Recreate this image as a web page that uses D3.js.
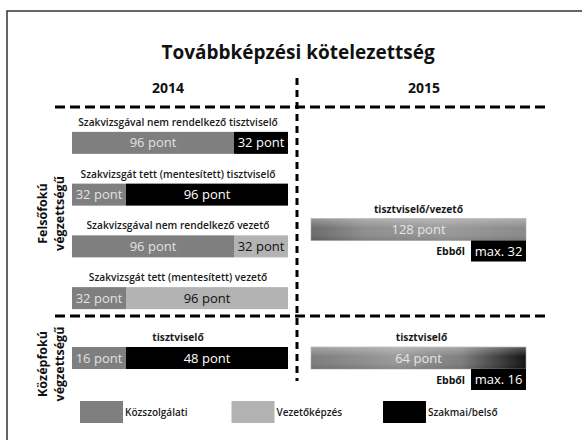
<!DOCTYPE html>
<html>
<head>
<meta charset="utf-8">
<style>
  body { margin: 0; padding: 0; background: #ffffff; font-family: 'Open Sans', sans-serif; }
  #chart { width: 582px; height: 440px; }
  .divider { fill: none; stroke: #000; stroke-width: 3; }
  .rowlabel { font-size: 10.2px; font-weight: 600; fill: #1a1a1a; text-anchor: middle; }
  .seglabel { font-size: 13px; text-anchor: middle; }
  .group { font-size: 12.5px; font-weight: 700; fill: #111; text-anchor: middle; }
  .legend text { font-size: 10px; font-weight: 600; fill: #1a1a1a; }
</style>
</head>
<body>
<div id="chart"></div>
<script src="https://d3js.org/d3.v7.min.js"></script>
<script>

// chart data
var title = "Továbbképzési kötelezettség"
var years = ["2014", "2015"]
var categories = ["Közszolgálati", "Vezetőképzés", "Szakmai/belső"]
var catColors = ["#7f7f7f", "#b3b3b3", "#000000"]
var catText = ["#e2e2e2", "#111111", "#ffffff"]
var groups = ["Felsőfokú", "Középfokú"]
var groupSub = "végzettségű"

// 2014 rows: two segments per bar
var labels2014 = ["Szakvizsgával nem rendelkező tisztviselő", "Szakvizsgát tett (mentesített) tisztviselő",
  "Szakvizsgával nem rendelkező vezető", "Szakvizsgát tett (mentesített) vezető", "tisztviselő"]
var group2014 = [0, 0, 0, 0, 1]
var firstCat = [0, 0, 0, 0, 0]
var firstVal = [96, 32, 96, 32, 16]
var secondCat = [2, 2, 1, 1, 2]
var secondVal = [32, 96, 32, 96, 48]

// 2015 rows
var labels2015 = ["tisztviselő/vezető", "tisztviselő"]
var group2015 = [0, 1]
var total2015 = [128, 64]
var max2015 = [32, 16]
var unit = " pont"

var width = 582, height = 440, barH = 22

var svg = d3.select("#chart").append("svg")
  .attr("width", width).attr("height", height)

// gradients for 2015 bars
var defs = svg.append("defs")
function addGrad(id, stops) {
  var g = defs.append("linearGradient").attr("id", id).attr("x1", 0).attr("x2", 1).attr("y1", 0).attr("y2", 0)
  stops.forEach(function (s) { g.append("stop").attr("offset", s[0]).attr("stop-color", s[1]) })
}
addGrad("g0", [["0%", "#6a6a6a"], ["25%", "#8e8e8e"], ["60%", "#9b9b9b"], ["100%", "#8a8a8a"]])
addGrad("g1", [["0%", "#7c7c7c"], ["40%", "#9a9a9a"], ["70%", "#7e7e7e"], ["100%", "#111111"]])
var shine = defs.append("linearGradient").attr("id", "shine").attr("x1", 0).attr("x2", 0).attr("y1", 0).attr("y2", 1)
shine.append("stop").attr("offset", "0%").attr("stop-color", "#fff").attr("stop-opacity", 0.3)
shine.append("stop").attr("offset", "45%").attr("stop-color", "#fff").attr("stop-opacity", 0)
shine.append("stop").attr("offset", "100%").attr("stop-color", "#000").attr("stop-opacity", 0.12)

// outer frame
svg.append("rect").attr("x", 7).attr("y", 11).attr("width", 600).attr("height", 460)
  .attr("fill", "none").attr("stroke", "#333").attr("stroke-width", 1.5)

// title
svg.append("text").attr("x", 298).attr("y", 59).attr("text-anchor", "middle")
  .style("font-size", "19px").style("font-weight", 700).style("fill", "#111").text(title)

// column scale for the two years
var xYear = d3.scaleBand().domain(years).range([40, 552])
svg.selectAll(".year").data(years).enter().append("text")
  .attr("class", "year")
  .attr("x", function (d) { return xYear(d) + xYear.bandwidth() / 2 })
  .attr("y", 93).attr("text-anchor", "middle")
  .style("font-size", "14px").style("font-weight", 700).style("fill", "#111")
  .text(function (d) { return d })

// section scale (vertical) for the education groups
var ySection = d3.scaleOrdinal().domain(groups).range([[107, 316], [316, 400]])
// rows inside the upper section
var upperRows = d3.range(labels2014.filter(function (d, i) { return group2014[i] === 0 }).length)
var yRow = d3.scaleBand().domain(upperRows).range([116, 323])

function rowCenter(i) {
  if (group2014[i] === 0) return yRow(i) + yRow.bandwidth() / 2 + 1
  var s = ySection(groups[group2014[i]])
  return (s[0] + s[1]) / 2
}

// dividers
svg.append("line").attr("class", "divider").attr("x1", 55).attr("x2", 547).attr("y1", 107).attr("y2", 107)
  .attr("stroke-dasharray", "10,5")
svg.append("line").attr("class", "divider").attr("x1", 55).attr("x2", 547).attr("y1", 316).attr("y2", 316)
  .attr("stroke-dasharray", "10,5")
svg.append("line").attr("class", "divider").attr("x1", 297).attr("x2", 297).attr("y1", 78).attr("y2", 381)
  .attr("stroke-width", 2.5).attr("stroke-dasharray", "7,5")

// group labels (rotated)
var gl = svg.selectAll(".glabel").data(groups).enter().append("g")
  .attr("transform", function (d) {
    var s = ySection(d)
    return "translate(0," + ((s[0] + s[1]) / 2 + (d === groups[0] ? 2 : 6)) + ")"
  })
gl.append("text").attr("class", "group")
  .attr("transform", "translate(47,0) rotate(-90)").text(function (d) { return d })
gl.append("text").attr("class", "group")
  .attr("transform", "translate(64,0) rotate(-90)").text(groupSub)

// 2014 bars: each bar normalised to the full width
var barLeft = 72, barRight = 288
labels2014.forEach(function (label, i) {
  var total = firstVal[i] + secondVal[i]
  var x = d3.scaleLinear().domain([0, total]).range([barLeft, barRight])
  var cy = rowCenter(i)
  var y0 = cy - barH / 2
  var segs = [
    { cat: firstCat[i], v0: 0, v1: firstVal[i], val: firstVal[i] },
    { cat: secondCat[i], v0: firstVal[i], v1: total, val: secondVal[i] }
  ]
  svg.append("text").attr("class", "rowlabel")
    .attr("x", (barLeft + barRight) / 2 - 2).attr("y", y0 - 6)
    .style("font-weight", group2014[i] === 1 ? 700 : 600)
    .text(label)
  var g = svg.append("g")
  g.selectAll("rect").data(segs).enter().append("rect")
    .attr("x", function (d) { return x(d.v0) })
    .attr("y", y0)
    .attr("width", function (d) { return x(d.v1) - x(d.v0) })
    .attr("height", barH)
    .attr("fill", function (d) { return catColors[d.cat] })
  g.selectAll("text").data(segs).enter().append("text")
    .attr("class", "seglabel")
    .attr("x", function (d) { return (x(d.v0) + x(d.v1)) / 2 })
    .attr("y", y0 + barH / 2 + 4.5)
    .attr("fill", function (d) { return catText[d.cat] })
    .text(function (d) { return d.val + unit })
})

// 2015 bars
var x15Left = 311, x15Right = 526
labels2015.forEach(function (label, i) {
  var x = d3.scaleLinear().domain([0, total2015[i]]).range([x15Left, x15Right])
  var s = ySection(groups[group2015[i]])
  var cy = group2015[i] === 0 ? (s[0] + s[1]) / 2 + 18 : (s[0] + s[1]) / 2
  var y0 = cy - barH / 2
  svg.append("text").attr("class", "rowlabel")
    .attr("x", (x15Left + x15Right) / 2 + (i === 1 ? 3 : 0)).attr("y", y0 - 6)
    .style("font-weight", 700)
    .text(label)
  svg.append("rect").attr("x", x(0)).attr("y", y0)
    .attr("width", x(total2015[i]) - x(0)).attr("height", barH)
    .attr("fill", "url(#g" + i + ")").attr("stroke", "#a8a8a8").attr("stroke-width", 0.6)
  svg.append("rect").attr("x", x(0)).attr("y", y0)
    .attr("width", x(total2015[i]) - x(0)).attr("height", barH)
    .attr("fill", "url(#shine)")
  svg.append("text").attr("class", "seglabel")
    .attr("x", (x(0) + x(total2015[i])) / 2).attr("y", y0 + barH / 2 + 4.5)
    .attr("fill", "#e6e6e6").text(total2015[i] + unit)

  // "Ebből max." box, right aligned under the bar
  var bw = 55
  var bx = x(total2015[i]) - bw
  svg.append("rect").attr("x", bx).attr("y", y0 + barH).attr("width", bw).attr("height", 21)
    .attr("fill", "#000")
  svg.append("text").attr("class", "seglabel").attr("x", bx + bw / 2).attr("y", y0 + barH + 15)
    .attr("fill", "#fff").text("max. " + max2015[i])
  svg.append("text").attr("x", bx - 6).attr("y", y0 + barH + 14.5)
    .attr("text-anchor", "end").style("font-size", "10.5px").style("font-weight", 700).style("fill", "#111")
    .text("Ebből")
})

// legend
var xLegend = d3.scaleLinear().domain([0, categories.length - 1]).range([80, 383])
var legend = svg.append("g").attr("class", "legend")
  .selectAll("g").data(categories).enter().append("g")
  .attr("transform", function (d, i) { return "translate(" + xLegend(i) + ",401)" })
legend.append("rect").attr("width", 43).attr("height", 22)
  .attr("fill", function (d, i) { return catColors[i] })
legend.append("text").attr("x", 45).attr("y", 14.5).text(function (d) { return d })

</script>
</body>
</html>
